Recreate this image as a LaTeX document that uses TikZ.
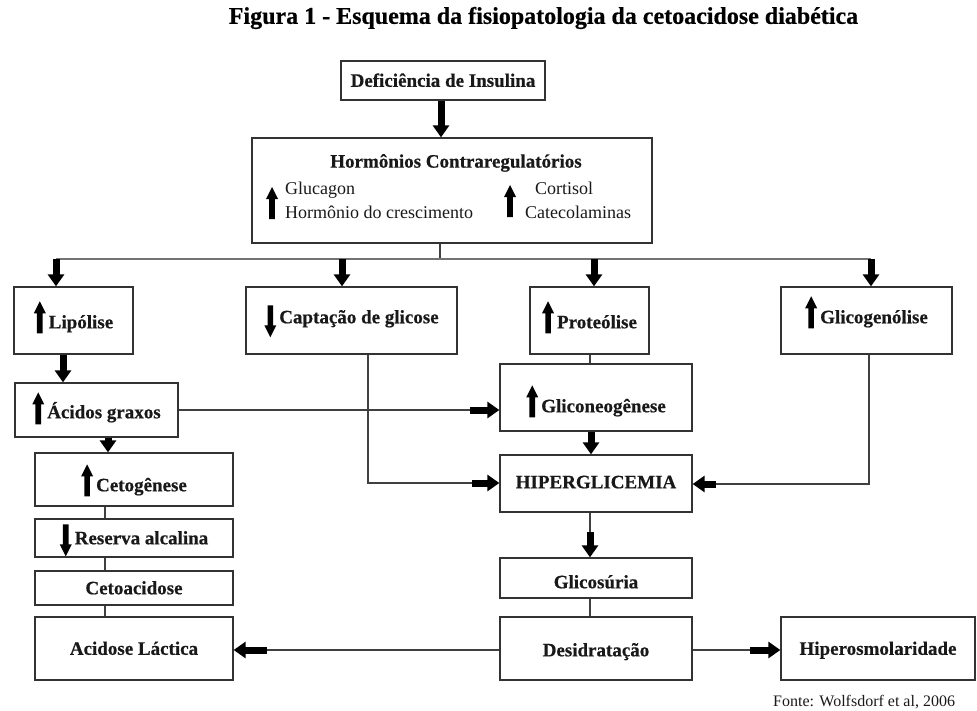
\documentclass[tikz,border=0pt]{standalone}
\usepackage{fontspec}
\setmainfont{Liberation Serif}[BoldFeatures={FakeBold=0.6}]
\usetikzlibrary{arrows.meta}
\begin{document}
\begin{tikzpicture}[x=1pt,y=-1pt,
  box/.style={draw=black!80, line width=1.3pt, inner sep=0pt, font=\bfseries\fontsize{19}{22}\selectfont, text=black!90, text height=17.6pt, text depth=5pt},
  th/.style={text height=#1},
  link/.style={draw=black!75, line width=1.3pt},
  trunk/.style={draw=black!55, line width=2.5pt},
  barrow/.style={draw=black, line width=7pt, -{Triangle[length=12pt,width=16pt]}},
  reg/.style={font=\fontsize{18}{20}\selectfont, inner sep=0pt, text=black!90},
  uparr/.pic={\fill[black] (0,-16) -- (6,-4) -- (2.8,-4) -- (2.8,16) -- (-2.8,16) -- (-2.8,-4) -- (-6,-4) -- cycle;},
  dnarr/.pic={\fill[black] (0,16) -- (6,4) -- (2.8,4) -- (2.8,-16) -- (-2.8,-16) -- (-2.8,4) -- (-6,4) -- cycle;}
]
\useasboundingbox (0,0) rectangle (977,710);

\node[font=\bfseries\fontsize{24}{28}\selectfont, inner sep=0pt] (title) at (543.5,18) {Figura 1 - Esquema da fisiopatologia da cetoacidose diabética};

\node[box, minimum width=204pt, minimum height=39pt] (defic) at (443,80.5) {Deficiência de Insulina};
\node[box, minimum width=400pt, minimum height=105pt] (horm) at (452,190.5) {};
\node[font=\bfseries\fontsize{19}{22}\selectfont, inner sep=0pt, text=black!90] (hormT) at (456,163) {Hormônios Contraregulatórios};
\node[reg, anchor=base west] (glu) at (285,194) {Glucagon};
\node[reg, anchor=base west] (hcr) at (285,218) {Hormônio do crescimento};
\node[reg, anchor=base west] (cor) at (535,194) {Cortisol};
\node[reg, anchor=base west] (cat) at (525,218) {Catecolaminas};
\pic at (272,203) {uparr};
\pic at (510,201) {uparr};

\node[box, th=20.6pt, minimum width=119pt, minimum height=67pt] (lipol) at (73.5,320.5) {\hspace*{15pt}Lipólise};
\node[box, th=10.6pt, minimum width=211pt, minimum height=67pt] (capt) at (351.5,320.5) {\hspace*{15pt}Captação de glicose};
\node[box, th=20.6pt, minimum width=119pt, minimum height=67pt] (prot) at (589.5,320.5) {\hspace*{15pt}Proteólise};
\node[box, th=10.6pt, minimum width=171pt, minimum height=67pt] (glicog) at (866.5,320.5) {\hspace*{15pt}Glicogenólise};
\node[box, th=21.6pt, minimum width=163pt, minimum height=54pt] (acidos) at (96.5,410) {\hspace*{15pt}Ácidos graxos};
\node[box, th=34.6pt, minimum width=192pt, minimum height=67pt] (glicon) at (596,397.5) {\hspace*{15pt}Gliconeogênese};
\node[box, th=28.6pt, minimum width=198pt, minimum height=53pt] (cetog) at (134,479.5) {\hspace*{15pt}Cetogênese};
\node[box, th=14.6pt, minimum width=192pt, minimum height=57pt] (hiper) at (596,483.5) {HIPERGLICEMIA};
\node[box, minimum width=198pt, minimum height=38pt] (reserva) at (134,538) {\hspace*{15pt}Reserva alcalina};
\node[box, minimum width=198pt, minimum height=34pt] (cetoac) at (134,588) {Cetoacidose};
\node[box, minimum width=198pt, minimum height=63pt] (acidose) at (134,648.5) {Acidose Láctica};
\node[box, th=25.6pt, minimum width=192pt, minimum height=40pt] (glicos) at (596,578) {Glicosúria};
\node[box, th=20.6pt, minimum width=192pt, minimum height=63pt] (desid) at (596,648.5) {Desidratação};
\node[box, minimum width=194pt, minimum height=63pt] (hiperos) at (878,648.5) {Hiperosmolaridade};

\pic at ([xshift=6pt,yshift=11pt]lipol.text) {uparr};
\pic at ([xshift=6pt,yshift=2pt]capt.text) {dnarr};
\pic at ([xshift=6pt,yshift=11pt]prot.text) {uparr};
\pic at ([xshift=6pt,yshift=11pt]glicog.text) {uparr};
\pic at ([xshift=6pt,yshift=10pt]acidos.text) {uparr};
\pic at ([xshift=6pt,yshift=11pt]glicon.text) {uparr};
\pic at ([xshift=6pt,yshift=11pt]cetog.text) {uparr};
\pic at ([xshift=6pt,yshift=4pt]reserva.text) {dnarr};

\node[font=\fontsize{16}{18}\selectfont, inner sep=0pt, anchor=west, text=black!90] (fonte) at (773,702) {Fonte: Wolfsdorf et al, 2006};

\coordinate (da) at (441,0);
\draw[barrow] (defic.south -| da) -- (horm.north -| da);
\coordinate (tm) at (440,259);
\coordinate (t1) at (56,259);
\coordinate (t2) at (342,259);
\coordinate (t3) at (594,259);
\coordinate (t4) at (871,259);
\draw[link] (horm.south -| tm) -- (tm);
\draw[trunk] (t1) -- (t4);
\draw[barrow] (t1) -- (t1 |- lipol.north);
\draw[barrow] (t2) -- (t2 |- capt.north);
\draw[barrow] (t3) -- (t3 |- prot.north);
\draw[barrow] (t4) -- (t4 |- glicog.north);
\draw[barrow] (lipol.south -| 63,0) -- (acidos.north -| 63,0);
\draw[barrow] (acidos.south -| 108,0) -- (cetog.north -| 108,0);
\draw[link] (cetog.south -| 105,0) -- (reserva.north -| 105,0);
\draw[link] (reserva.south -| 105,0) -- (cetoac.north -| 105,0);
\draw[link] (cetoac.south -| 105,0) -- (acidose.north -| 105,0);
\coordinate (ga) at (470,410);
\draw[link] (acidos.east |- ga) -- (ga);
\draw[barrow] (ga) -- (ga -| glicon.west);
\coordinate (cb) at (368,483);
\coordinate (ha) at (472,483);
\draw[link] (capt.south -| cb) -- (cb) -- (ha);
\draw[barrow] (ha) -- (ha -| hiper.west);
\draw[link] (prot.south -| 590,0) -- (glicon.north -| 590,0);
\draw[barrow] (glicon.south -| 591,0) -- (hiper.north -| 591,0);
\coordinate (gb) at (869,484);
\coordinate (hb) at (716,484);
\draw[link] (glicog.south -| gb) -- (gb) -- (hb);
\draw[barrow] (hb) -- (hb -| hiper.east);
\coordinate (gs) at (590,532);
\draw[link] (hiper.south -| gs) -- (gs);
\draw[barrow] (gs) -- (gs |- glicos.north);
\draw[link] (glicos.south -| 590,0) -- (desid.north -| 590,0);
\coordinate (dl) at (267,650);
\coordinate (dr) at (750,650);
\draw[link] (desid.west |- dl) -- (dl);
\draw[barrow] (dl) -- (dl -| acidose.east);
\draw[link] (desid.east |- dr) -- (dr);
\draw[barrow] (dr) -- (dr -| hiperos.west);
\end{tikzpicture}
\end{document}
